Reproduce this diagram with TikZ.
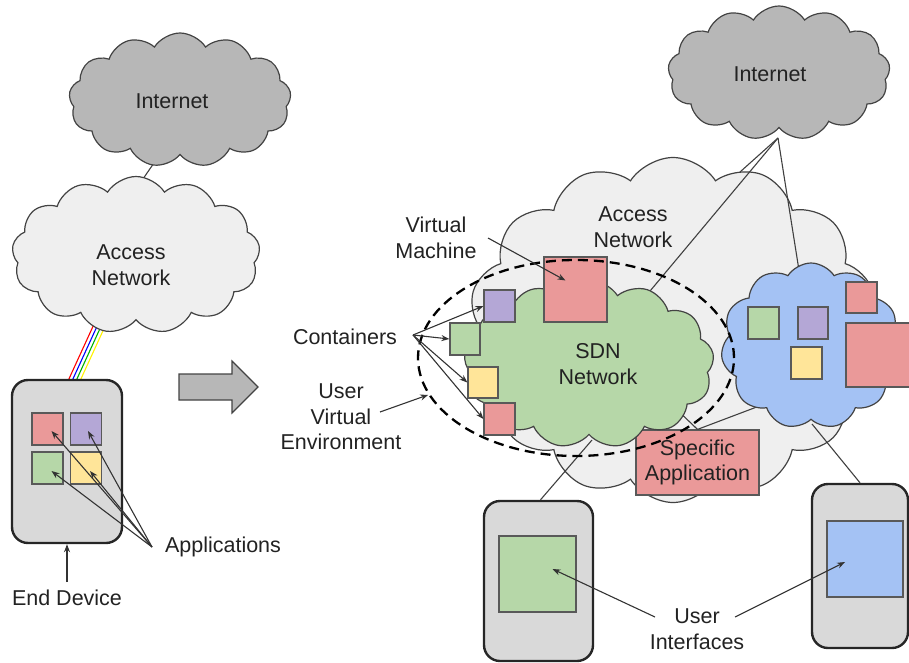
\documentclass[tikz,border=0pt]{standalone}
\usepackage{fontspec}
\setmainfont{Liberation Sans}
\usetikzlibrary{shapes.symbols,shapes.geometric,arrows.meta}

\definecolor{cloudlight}{HTML}{EFEFEF}
\definecolor{clouddark}{HTML}{B7B7B7}
\definecolor{cloudline}{HTML}{434343}
\definecolor{sdngreen}{HTML}{B6D7A8}
\definecolor{netblue}{HTML}{A4C2F4}
\definecolor{appred}{HTML}{EA9999}
\definecolor{apppurple}{HTML}{B4A7D6}
\definecolor{appyellow}{HTML}{FFE599}
\definecolor{devfill}{HTML}{D9D9D9}
\definecolor{sqline}{HTML}{595959}
\definecolor{inkgray}{HTML}{222222}

\tikzset{
  cloudbase/.style={cloud, cloud puffs=13, cloud puff arc=115, cloud ignores aspect,
    draw=cloudline, line width=1.2pt, inner sep=0pt},
  sq/.style={draw=sqline, line width=1.2pt, inner sep=0pt},
  device/.style={draw=black!85, fill=devfill, line width=2.4pt, rounded corners=16pt, inner sep=0pt},
  lbl/.style={font=\fontsize{21.5}{25.5}\selectfont, align=center, inner sep=0pt, text=inkgray},
  arr/.style={-{Stealth[length=8pt,width=6pt]}, line width=1.1pt, draw=black!80},
  link/.style={line width=1.1pt, draw=black!75},
  wire/.style={line width=1.1pt},
}

\begin{document}
\begin{tikzpicture}[x=1pt,y=-1pt]
\useasboundingbox (0,0) rectangle (909,663);

% ---------------- left: single end device ----------------
\coordinate (lnkA) at (156,160);
\coordinate (lnkB) at (134,192);
\draw[link] (lnkA) -- (lnkB);
\node[cloudbase, fill=clouddark, minimum width=222, minimum height=134] (inetL) at (180,100) {};
\node[lbl] at (172,101) {Internet};

% coloured wires between access network and device
\coordinate (wr1) at (95,322);  \coordinate (wr1b) at (68,381);
\coordinate (wb1) at (99,322);  \coordinate (wb1b) at (72,381);
\coordinate (wg1) at (103,322); \coordinate (wg1b) at (76,381);
\coordinate (wy1) at (107,322); \coordinate (wy1b) at (80,381);
\draw[wire, red]   (wr1) -- (wr1b);
\draw[wire, blue]  (wb1) -- (wb1b);
\draw[wire, green!70!black] (wg1) -- (wg1b);
\draw[wire, yellow] (wy1) -- (wy1b);

\node[cloudbase, fill=cloudlight, minimum width=248, minimum height=157] (accL) at (136,255) {};
\node[lbl] at (131,265) {Access\\Network};

\node[device, minimum width=110, minimum height=163] (devL) at (67,461.5) {};
\node[sq, fill=appred,    minimum width=31, minimum height=32] (aRed) at (47.5,429) {};
\node[sq, fill=apppurple, minimum width=31, minimum height=32] (aPur) at (86,429) {};
\node[sq, fill=sdngreen,  minimum width=31, minimum height=32] (aGrn) at (47.5,468) {};
\node[sq, fill=appyellow, minimum width=31, minimum height=32] (aYel) at (86,468) {};

\node[lbl] (apps) at (223,547) {Applications};
\coordinate (appsfrom) at (152,547);
\draw[arr] (appsfrom) -- ([shift={(4,2)}]aRed.center);
\draw[arr] (appsfrom) -- ([shift={(2,2)}]aPur.center);
\draw[arr] (appsfrom) -- ([shift={(4,3)}]aGrn.center);
\draw[arr] (appsfrom) -- ([shift={(4,3)}]aYel.center);

\node[lbl] (enddev) at (67,598) {End Device};
\coordinate (enddevfrom) at (67,582);
\draw[arr] (enddevfrom) -- (devL.south);

% transition arrow
\draw[draw=cloudline, line width=1.2pt, fill=clouddark]
  (179,374) -- (232,374) -- (232,361) -- (258,387) -- (232,413) -- (232,400) -- (179,400) -- cycle;

% ---------------- right: virtualised environment ----------------
\coordinate (accRtop) at (740,172);
\coordinate (uplinkTop) at (778,138);
\node[cloudbase, fill=clouddark, minimum width=222, minimum height=134] (inetR) at (779,73) {};
\node[lbl] at (770,74) {Internet};
\draw[link] (uplinkTop) -- (accRtop);

\node[cloudbase, cloud puffs=14, fill=cloudlight, minimum width=410, minimum height=345] (accR) at (673,330) {};
\node[lbl] at (633,227) {Access\\Network};

\node[device, minimum width=109, minimum height=160] (devRL) at (538.5,581) {};
\node[device, minimum width=96, minimum height=164] (devRR) at (860,566) {};

\coordinate (sdnLow) at (592,440);
\coordinate (sdnRight) at (672,405);
\coordinate (blueLow) at (762,405);
\coordinate (blueBot) at (812,424);
\draw[link] (uplinkTop) -- (589,364);
\draw[link] (uplinkTop) -- (811,346);
\draw[link] ([xshift=2]devRL.north) -- (sdnLow);
\draw[link] (devRR.north) -- (blueBot);

\node[draw=sqline, line width=1.2pt, fill=appred, minimum width=123, minimum height=65, inner sep=0pt] (spec) at (697.5,462.5) {};
\draw[link] (spec.north) -- (sdnRight);
\draw[link] (spec.north) -- (blueLow);

\node[cloudbase, fill=sdngreen, minimum width=250, minimum height=168] (sdn) at (589,364) {};
\node[lbl] at (598,364) {SDN\\Network};

\node[cloudbase, cloud puffs=11, fill=netblue, minimum width=180, minimum height=166] (blue) at (811,346) {};

% user-side blocks in the blue network
\node[sq, fill=sdngreen,  minimum width=31, minimum height=32] (bGrn) at (763.5,323) {};
\node[sq, fill=apppurple, minimum width=30, minimum height=32] (bPur) at (813,323) {};
\node[sq, fill=appyellow, minimum width=31, minimum height=32] (bYel) at (806.5,363) {};
\node[sq, fill=appred,    minimum width=31, minimum height=31] (bRed) at (861.5,297.5) {};
\node[sq, fill=appred,    minimum width=68, minimum height=64] (bBig) at (880,355) {};

% virtual machine and containers
\node[sq, fill=appred,    minimum width=63, minimum height=65] (vm) at (575.5,289.5) {};
\node[sq, fill=apppurple, minimum width=31, minimum height=32] (cPur) at (499.5,306) {};
\node[sq, fill=sdngreen,  minimum width=30, minimum height=32] (cGrn) at (465,339) {};
\node[sq, fill=appyellow, minimum width=30, minimum height=31] (cYel) at (483,382.5) {};
\node[sq, fill=appred,    minimum width=31, minimum height=32] (cRed) at (499.5,419) {};

\node[lbl] at (spec.center) {Specific\\Application};

% user virtual environment boundary
\node[ellipse, draw=black, dash pattern=on 10pt off 6pt, line width=2.3pt,
      minimum width=316, minimum height=196, inner sep=0pt] (uve) at (576,358) {};

% labels and pointers
\node[lbl] (vmlbl) at (436,238) {Virtual\\Machine};
\coordinate (vmfrom) at (488,238);
\draw[arr] (vmfrom) -- ([shift={(-10,-9)}]vm.center);

\node[lbl] (contlbl) at (345,337) {Containers};
\coordinate (contfrom) at (413,335);
\draw[arr] (contfrom) -- (cPur.west);
\draw[arr] (contfrom) -- (cGrn.west);
\draw[arr] (contfrom) -- (cYel.west);
\draw[arr] (contfrom) -- (cRed.west);

\node[lbl] (uvelbl) at (341,417) {User\\Virtual\\Environment};
\coordinate (uvefrom) at (380,412);
\draw[arr] (uvefrom) -- (uve.194);

\node[sq, fill=sdngreen, minimum width=77, minimum height=76] (uiGrn) at (537.5,574) {};
\node[sq, fill=netblue,  minimum width=76, minimum height=76] (uiBlu) at (865,559) {};

\node[lbl] (uilbl) at (697,629) {User\\Interfaces};
\coordinate (uifromL) at (655,617);
\coordinate (uifromR) at (735,617);
\draw[arr] (uifromL) -- ([shift={(15,-5)}]uiGrn.center);
\draw[arr] (uifromR) -- ([shift={(-20,3)}]uiBlu.center);
\end{tikzpicture}
\end{document}
